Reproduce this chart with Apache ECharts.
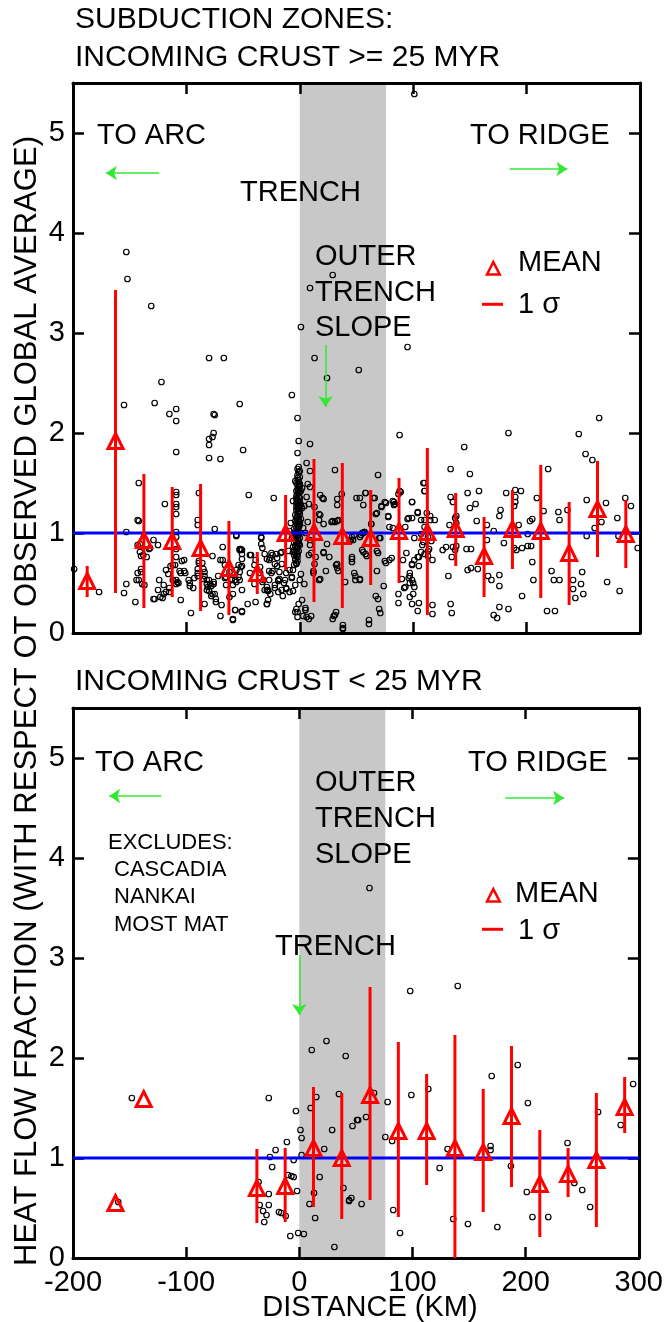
<!DOCTYPE html>
<html>
<head>
<meta charset="utf-8">
<script src="https://cdn.jsdelivr.net/npm/echarts@6/dist/echarts.min.js"></script>
<style>
  html, body { margin: 0; padding: 0; background: #fff; }
  #chart { width: 666px; height: 1322px; }
</style>
</head>
<body>
<div id="chart"></div>
<script>
// bin centres (km), shared by both panels
const binKm = [-187.5, -162.5, -137.5, -112.5, -87.5, -62.5, -37.5, -12.5, 12.5, 37.5,
               62.5, 87.5, 112.5, 137.5, 162.5, 187.5, 212.5, 237.5, 262.5, 287.5];

// incoming crust >= 25 Myr
const topMean = [0.52, 1.92, 0.93, 0.92, 0.85, 0.65, 0.60, 1.00, 1.01, 0.97,
                 0.95, 1.02, 1.01, 1.04, 0.77, 1.04, 1.02, 0.80, 1.24, 0.99];
const topLo   = [0.36, 0.40, 0.25, 0.36, 0.22, 0.18, 0.39, 0.63, 0.31, 0.25,
                 0.48, 0.50, 0.18, 0.67, 0.36, 0.64, 0.35, 0.28, 0.76, 0.65];
const topHi   = [0.67, 3.43, 1.59, 1.46, 1.49, 1.12, 0.81, 1.38, 1.74, 1.70,
                 1.43, 1.55, 1.85, 1.40, 1.16, 1.43, 1.68, 1.31, 1.72, 1.33];

// incoming crust < 25 Myr
const botMean = [null, 0.55, 1.59, null, null, null, 0.70, 0.72, 1.10, 1.00,
                 1.63, 1.27, 1.27, 1.10, 1.06, 1.42, 0.74, 0.84, 0.98, 1.51];
const botLo   = [null, null, null, null, null, null, 0.35, 0.36, 0.51, 0.39,
                 0.58, 0.41, 0.73, 0.00, 0.46, 0.71, 0.21, 0.61, 0.31, 1.25];
const botHi   = [null, null, null, null, null, null, 1.09, 1.10, 1.71, 1.65,
                 2.71, 2.16, 1.84, 2.23, 1.69, 2.12, 1.28, 1.10, 1.65, 1.81];

// outer trench slope (km)
const slopeKm = [0, 76];

// individual heat flow sites [km, fraction]
const topPts = [
  [-153,3.81],[-152,3.54],[-131,3.27],[1,3.06],[9,3.45],[29,3.58],[-80,2.75],[-67,2.75],[13,2.75],
  [101,5.39],[95,2.86],[24,2.55],[52,2.63],
  [-122,2.51],[-155,2.28],[-128,2.30],[-115,2.19],[-109,2.24],[-109,2.12],[-76,2.19],[-75,2.18],
  [-53,2.29],[-7,2.38],[-2,2.15],[-80,1.94],[-77,1.96],[-76,2.00],[-80,1.88],[-50,1.83],[-109,1.81],
  [-80,1.75],[-70,1.74],[-1,1.92],[9,1.89],[-2,1.80],
  [-142,1.50],[-45,1.38],[-23,1.35],[-89,1.40],[-119,1.29],[-109,1.41],[-109,1.38],[-109,1.29],
  [-109,1.26],[-109,1.19],[-109,1.01],[-143,1.13],[-142,1.12],[-153,1.01],[-90,1.13],[-75,1.04],[-56,0.97],
  [-199,0.64],[-177,0.41],[-155,0.40],[-153,0.49],[-145,0.31],[-141,0.89],[-141,0.81],[-140,0.77],
  [-140,0.61],[-142,0.53],[-139,0.49],[-135,0.76],[-133,0.84],[-129,0.93],[-125,0.88],[-124,0.53],
  [-129,0.34],[-125,0.43],[-121,0.35],[-120,0.39],[-118,0.63],[-116,0.59],[-115,0.41],[-112,0.53],
  [-109,0.53],[-106,0.62],[-105,0.33],[-104,0.72],[-102,0.62],[-98,0.53],[-96,0.20],[-94,0.45],
  [-93,0.55],[-90,0.57],[-89,0.70],[-85,0.64],[-84,0.57],[-82,0.53],[-82,0.43],[-84,0.29],[-79,0.49],
  [-77,0.39],[-76,0.49],[-74,0.34],[-72,0.57],[-70,0.73],[-68,0.86],[-70,0.17],[-66,0.55],[-65,0.48],
  [-62,0.36],[-60,0.53],[-59,0.39],[-59,0.14],[-57,0.23],[-56,0.63],[-54,0.68],[-53,0.83],[-51,0.83],
  [-51,0.67],[-51,0.43],[-53,0.53],[-51,0.22],[-46,0.29],[-44,0.78],[-43,0.78],[-44,0.60],[-40,0.49],
  [-35,0.66],[-34,0.96],[-34,0.89],[-33,0.51],[-31,0.43],[-29,0.29],[-29,0.74],[-27,0.73],[-27,0.53],
  [-24,0.62],[-22,0.48],[-24,0.78],[-21,0.79],[-20,0.67],[-19,0.53],[-18,0.61],[-16,0.81],[-15,0.37],
  [-13,0.53],[-12,0.45],[-10,0.82],[-9,0.41],[-7,0.56],[-6,0.63],[-6,0.81],[-4,0.73],[-3,0.69],
  [-2,0.16],[-1,0.29],[-2,0.21],
  [-144,0.53],[-143,0.60],[-140,0.64],[-143,0.88],[-138,0.78],[-132,0.85],[-137,0.48],[-128,0.34],
  [-123,0.36],[-118,0.41],[-115,0.45],[-120,0.48],[-114,0.67],[-112,0.68],[-110,0.68],[-108,0.51],
  [-107,0.50],[-109,0.49],[-105,0.60],[-102,0.73],[-101,0.60],[-109,0.76],[-109,0.84],[-109,0.96],
  [-97,0.50],[-97,0.47],[-90,0.60],[-90,0.64],[-89,0.72],[-86,0.70],[-90,1.08],[-77,0.77],[-85,0.54],
  [-84,0.61],[-82,0.49],[-81,0.46],[-80,0.53],[-78,0.47],[-76,0.51],[-80,0.42],[-78,0.37],[-75,0.39],
  [-74,0.31],[-68,0.73],[-66,0.68],[-69,0.28],[-65,0.56],[-62,0.61],[-60,0.54],[-59,0.48],[-57,0.53],
  [-56,0.51],[-54,0.56],[-53,0.61],[-52,0.66],[-51,0.79],[-51,0.74],[-53,0.84],[-52,0.84],[-56,0.98],
  [-59,0.13],[-57,0.23],[-51,0.21],[-40,0.68],[-39,0.73],[-34,0.95],[-33,0.85],[-31,0.79],[-39,0.31],
  [-29,0.29],[-29,0.43],[-28,0.42],[-26,0.39],[-32,0.53],[-35,0.60],
  // trench spike
  [-1,1.66],[0,1.62],[-2,1.58],[0,1.56],[-1,1.53],[-3,1.50],[0,1.49],[-1,1.46],[-2,1.44],[1,1.42],
  [-1,1.40],[-3,1.37],[0,1.35],[-2,1.33],[-1,1.30],[1,1.28],[-3,1.26],[-1,1.24],[0,1.22],[-2,1.20],
  [-4,1.18],[-1,1.16],[1,1.14],[-2,1.12],[-3,1.10],[0,1.08],[-1,1.06],[-5,1.04],[-2,1.02],[0,1.00],
  [-1,0.98],[-3,0.96],[-4,0.94],[-1,0.92],[-2,0.90],[0,0.88],[-6,0.86],[-3,0.84],[-1,0.82],[-5,0.78],
  [-2,0.76],[-8,1.10],[-7,0.95],[-9,1.02],[2,1.45],[2,1.25],[3,1.05],[-4,1.52],[-6,1.32],
  [-2,1.64],[-1,1.61],[-2,1.55],[-1,1.51],[0,1.47],[-2,1.48],[-1,1.43],[0,1.41],[-2,1.39],[-1,1.36],
  [-3,1.34],[0,1.31],[-2,1.29],[-1,1.27],[-3,1.23],[-2,1.25],[-1,1.21],[0,1.19],[-2,1.17],[-3,1.15],
  [-1,1.13],[0,1.11],[-2,1.09],[-1,1.07],[-3,1.05],[-2,1.04],[-1,1.01],[-3,0.99],[-2,0.97],[0,0.95],
  [-2,0.93],[-3,0.91],[-1,0.89],[-4,0.87],[-2,0.85],[-3,0.81],[-4,0.80],[-2,0.79],[-3,0.77],[-4,0.74],
  [-2,0.72],[-3,0.70],[-5,0.68],[-3,1.42],[-3,1.30],[-4,1.12],[-4,1.00],[-5,0.90],[-5,0.83],[0,1.26],
  // outer trench slope and beyond
  [9,1.62],[7,1.49],[18,1.38],[20,1.35],[33,1.34],[37,1.39],[50,1.35],[58,1.40],[56,1.28],[66,1.35],
  [75,1.31],[72,1.26],[4,1.27],[18,1.18],[21,1.09],[29,1.12],[31,1.11],[33,1.12],[46,0.96],[48,0.98],
  [55,1.00],[57,1.01],[63,1.09],[70,0.95],[78,1.17],[83,1.31],[84,1.29],[89,1.41],[99,1.31],[96,1.15],
  [104,1.21],[107,1.13],[110,1.50],[110,1.42],[119,1.13],
  [9,0.88],[8,0.78],[21,0.80],[23,0.62],[33,0.69],[32,0.68],[46,0.76],[55,0.83],[58,0.79],[75,0.72],
  [79,0.73],[81,0.75],[91,0.73],[94,0.80],[97,0.60],[99,0.68],[100,0.50],[105,0.76],[108,0.88],[113,0.82],
  [96,0.55],[92,0.45],[90,0.54],[87,0.39],[100,0.39],[117,0.28],[105,0.30],[133,0.29],
  [12,0.60],[18,0.54],[48,0.60],[53,0.54],[67,0.37],[70,0.24],[61,0.13],[38,0.08],[30,0.17],[32,0.21],
  [5,0.25],[3,0.17],[10,0.17],[-3,0.24],[-4,0.21],[2,0.33],[-28,0.33],
  [-25,0.80],[-26,0.75],[-22,0.69],[-20,0.75],[-17,0.80],[-16,0.69],[-27,0.62],[-25,0.60],[-18,0.54],
  [-19,0.52],[-22,0.45],[-29,0.46],[-28,0.43],[-19,0.41],[-16,0.43],[-12,0.44],[-14,0.50],[-12,0.60],
  [-9,0.63],[-7,0.55],[-4,0.48],[-6,0.42],
  [6,1.36],[9,1.46],[8,1.29],[6,1.70],[13,1.26],[17,1.19],[17,1.13],[21,1.34],[7,1.11],[5,1.00],
  [9,0.93],[10,0.80],[14,0.76],[17,0.53],[21,0.81],[26,0.76],[24,0.89],[31,1.63],[33,1.28],[34,1.13],
  [28,1.11],[33,0.65],[34,0.62],[40,0.51],[31,0.18],[29,0.14],[38,0.04],[5,0.23],[6,0.16],[8,0.14],
  [4,0.49],[0,0.53],[1,0.59],[12,0.62],[13,0.69],[46,0.74],[49,0.53],[47,0.93],[44,0.92],[53,1.35],
  [88,1.98],[145,1.86],[184,2.00],[264,2.15],[246,1.99],[252,1.79],[258,1.73],[219,1.64],[133,1.64],
  [150,1.59],[69,1.58],[109,1.50],[110,1.42],[88,1.42],[87,1.39],[133,1.36],[135,1.31],[148,1.40],
  [158,1.42],[155,1.29],[150,1.25],[190,1.43],[195,1.42],[190,1.36],[190,1.31],[189,1.27],[182,1.40],
  [177,1.23],[176,1.17],[209,1.35],[215,1.22],[228,1.21],[229,1.13],[236,1.23],[253,1.33],[270,1.30],
  [287,1.35],[292,1.27],[280,1.15],[266,1.11],[260,1.05],[253,0.97],[281,0.97],[298,0.85],[76,1.30],
  [72,1.27],[67,1.19],[68,1.20],[58,1.40],[65,1.35],[63,1.09],[78,1.16],[82,1.32],[83,1.28],[99,1.31],
  [104,1.20],[95,1.14],[99,1.15],[110,1.13],[112,1.20],[115,1.17],[115,1.13],[110,1.06],[79,1.06],
  [82,1.05],[93,1.06],[101,0.95],[107,0.99],[109,0.91],[110,0.79],[113,0.96],[116,0.92],[114,0.84],
  [117,0.73],[113,0.77],[107,0.81],[104,0.76],[101,0.73],[99,0.69],[105,0.67],[97,0.57],[99,0.53],
  [101,0.46],[97,0.50],[93,0.46],[97,0.36],[99,0.29],[87,0.30],[104,0.22],[117,0.19],[134,0.20],
  [171,0.18],[174,0.15],[176,0.26],[184,0.24],[196,0.37],[176,0.47],[176,0.58],[169,0.53],[166,0.57],
  [157,0.64],[148,0.63],[151,0.65],[131,0.57],[134,0.76],[126,0.83],[129,0.86],[135,0.86],[137,0.83],
  [147,0.84],[151,0.84],[138,0.87],[132,1.08],[137,1.15],[138,1.17],[138,1.10],[156,1.12],[165,1.08],
  [165,0.93],[171,1.02],[180,0.90],[189,0.85],[191,0.83],[193,1.08],[203,1.12],[205,1.14],[201,0.99],
  [196,0.85],[201,0.87],[204,0.87],[205,0.71],[206,0.53],[218,0.22],[225,0.22],[224,0.53],[229,0.53],
  [222,0.62],[241,0.53],[241,0.44],[243,0.35],[250,0.39],[248,0.49],[249,0.61],[271,0.51],[282,0.42],
  [69,0.80],[68,0.82],[68,0.62],[69,0.34],[71,0.20],[61,0.09],[38,0.05],[49,0.57],[53,0.53],[46,0.71],
  [56,0.81],[59,0.77],[71,0.95],[53,0.96],[54,0.98],[56,1.00],[57,1.01],[45,0.93],[76,0.70],[74,0.47]
];

const botPts = [
  [-148,1.60],[-160,0.56],[-27,1.60],[-3,1.47],[10,1.50],[15,1.61],[11,2.08],[24,2.17],[41,2.02],
  [35,1.64],[47,1.32],[51,1.38],[29,1.28],[22,1.09],[1,1.28],[2,1.20],[2,1.03],[-11,1.16],[-21,1.08],
  [-26,1.01],[-24,0.91],[-5,0.98],[-10,0.83],[-7,0.82],[-5,0.81],[-2,0.67],[18,0.81],[13,0.65],
  [39,0.70],[44,0.58],[46,0.60],[9,0.54],[14,0.40],[-27,0.64],[-35,0.53],[-27,0.53],[-32,0.47],
  [-29,0.43],[-31,0.36],[-18,0.46],[-16,0.45],[-12,0.42],[-36,0.76],[-8,0.22],[-1,0.25],[4,0.24],
  [31,0.11],
  [62,3.70],[140,2.72],[98,2.67],[193,1.93],[170,1.82],[114,1.69],[66,1.65],[99,1.63],[78,1.56],
  [202,1.55],[295,1.74],[264,1.46],[284,1.33],[59,1.41],[52,1.38],[76,1.21],[82,1.17],[131,1.09],
  [169,1.12],[169,1.08],[237,1.15],[124,0.90],[187,0.92],[201,0.66],[243,0.75],[250,0.68],[257,0.51],
  [206,0.41],[220,0.41],[175,0.31],[149,0.34],[136,0.39],[83,0.48],[89,0.25],[55,0.54],[44,0.57]
];

const xTicks = [-200, 300, 100];   // min, max, step
const yTicks = [0, 5.5, 1];

const FONT = '"Liberation Sans", Arial, Helvetica, sans-serif';
const GREEN = '#33e833';

function xAxisOf(grid, pos, labels) {
  return {
    type: 'value', gridIndex: grid, position: pos,
    min: xTicks[0], max: xTicks[1], interval: xTicks[2],
    axisLine: { show: true, onZero: false, lineStyle: { color: '#000', width: 3 } },
    axisTick: { show: true, inside: true, length: 11, lineStyle: { color: '#000', width: 2.5 } },
    axisLabel: { show: labels, color: '#000', fontSize: 29, fontFamily: FONT, margin: 10 },
    splitLine: { show: false }
  };
}

function yAxisOf(grid, pos, labels) {
  return {
    type: 'value', gridIndex: grid, position: pos,
    min: yTicks[0], max: yTicks[1], interval: yTicks[2],
    axisLine: { show: true, onZero: false, lineStyle: { color: '#000', width: 3 } },
    axisTick: { show: true, inside: true, length: 11, lineStyle: { color: '#000', width: 2.5 } },
    axisLabel: { show: labels, color: '#000', fontSize: 29, fontFamily: FONT, margin: 8,
                 showMaxLabel: false },
    splitLine: { show: false }
  };
}

function panelSeries(xi, yi, pts, mean, lo, hi, arrows) {
  const means = [];
  const bars = [];
  binKm.forEach((x, i) => {
    if (mean[i] != null) means.push([x, mean[i]]);
    if (lo[i] != null) bars.push([x, lo[i], hi[i]]);
  });
  return [
    {
      type: 'custom', xAxisIndex: xi, yAxisIndex: yi, z: 0, silent: true,
      data: [[slopeKm[0], slopeKm[1], 0]],
      encode: { x: [0, 1], y: 2 },
      renderItem: (params, api) => {
        const a = api.coord([api.value(0), yTicks[1]]);
        const b = api.coord([api.value(1), yTicks[0]]);
        return { type: 'rect', shape: { x: a[0], y: a[1], width: b[0] - a[0], height: b[1] - a[1] },
                 style: { fill: '#c8c8c8' } };
      }
    },
    {
      type: 'scatter', xAxisIndex: xi, yAxisIndex: yi, z: 2, silent: true,
      symbol: 'circle', symbolSize: 5.5, data: pts,
      itemStyle: { color: 'rgba(0,0,0,0)', borderColor: '#000', borderWidth: 1.2, opacity: 1 }
    },
    {
      type: 'line', xAxisIndex: xi, yAxisIndex: yi, z: 3, silent: true,
      data: [[xTicks[0], 1], [xTicks[1], 1]], symbol: 'none',
      lineStyle: { color: '#0000ff', width: 3 },
      markLine: {
        silent: true, symbol: ['none', 'arrow'], symbolSize: 11,
        label: { show: false },
        lineStyle: { color: GREEN, width: 1.5, type: 'solid' },
        itemStyle: { color: GREEN },
        data: arrows.map(a => [{ coord: a[0] }, { coord: a[1] }])
      }
    },
    {
      type: 'custom', xAxisIndex: xi, yAxisIndex: yi, z: 4, silent: true,
      data: bars, encode: { x: 0, y: [1, 2] },
      renderItem: (params, api) => {
        const a = api.coord([api.value(0), api.value(1)]);
        const b = api.coord([api.value(0), api.value(2)]);
        return { type: 'line', shape: { x1: a[0], y1: a[1], x2: b[0], y2: b[1] },
                 style: { stroke: '#ff0000', lineWidth: 3 } };
      }
    },
    {
      type: 'scatter', xAxisIndex: xi, yAxisIndex: yi, z: 5, silent: true,
      symbol: 'triangle', symbolSize: 15, data: means,
      itemStyle: { color: 'rgba(0,0,0,0)', borderColor: '#ff0000', borderWidth: 3, opacity: 1 }
    }
  ];
}

function txt(x, y, s, size, align) {
  return {
    type: 'text', x: x, y: y, z: 10,
    style: { text: s, fill: '#000', fontSize: size || 29, fontFamily: FONT,
             align: align || 'left', verticalAlign: 'middle' }
  };
}

function legendMarks(triY, lineY) {
  return [
    { type: 'polygon', z: 10, shape: { points: [[493.3, triY - 6.5], [487, triY + 6], [499.7, triY + 6]] },
      style: { fill: 'none', stroke: '#ff0000', lineWidth: 2.5 } },
    { type: 'line', z: 10, shape: { x1: 482, y1: lineY, x2: 503, y2: lineY },
      style: { stroke: '#ff0000', lineWidth: 3 } }
  ];
}

const chart = echarts.init(document.getElementById('chart'));
chart.setOption({
  animation: false,
  backgroundColor: '#fff',
  grid: [
    { left: 73, top: 83, width: 567, height: 550 },
    { left: 73, top: 708, width: 567, height: 550 }
  ],
  xAxis: [xAxisOf(0, 'bottom', false), xAxisOf(0, 'top', false),
          xAxisOf(1, 'bottom', true), xAxisOf(1, 'top', false)],
  yAxis: [yAxisOf(0, 'left', true), yAxisOf(0, 'right', false),
          yAxisOf(1, 'left', true), yAxisOf(1, 'right', false)],
  series: [
    ...panelSeries(0, 0, topPts, topMean, topLo, topHi, [
      [[-124, 4.60], [-171, 4.60]],
      [[185, 4.64], [236, 4.64]],
      [[22.7, 2.88], [22.7, 2.26]]
    ]),
    ...panelSeries(2, 2, botPts, botMean, botLo, botHi, [
      [[-122, 4.62], [-168, 4.62]],
      [[182, 4.60], [234, 4.60]],
      [[0, 3.03], [0, 2.43]]
    ])
  ],
  graphic: [
    txt(75, 20, 'SUBDUCTION ZONES:', 30),
    txt(75, 58, 'INCOMING CRUST >= 25 MYR', 30),
    txt(75, 682, 'INCOMING CRUST < 25 MYR', 30),
    // top panel notes
    txt(97, 136, 'TO ARC'),
    txt(470, 136, 'TO RIDGE'),
    txt(240, 193, 'TRENCH'),
    txt(315, 257, 'OUTER'),
    txt(315, 293, 'TRENCH'),
    txt(315, 328, 'SLOPE'),
    txt(518, 263, 'MEAN'),
    txt(518, 305, '1 σ'),
    ...legendMarks(268.5, 304.3),
    // bottom panel notes
    txt(95, 763, 'TO ARC'),
    txt(468, 763, 'TO RIDGE'),
    txt(315, 783, 'OUTER'),
    txt(315, 819, 'TRENCH'),
    txt(315, 855, 'SLOPE'),
    txt(275, 947, 'TRENCH'),
    txt(108, 843, 'EXCLUDES:', 22),
    txt(114, 870, 'CASCADIA', 22),
    txt(114, 897, 'NANKAI', 22),
    txt(114, 925, 'MOST MAT', 22),
    txt(515, 894, 'MEAN'),
    txt(518, 931, '1 σ'),
    ...legendMarks(895.5, 929.3),
    // axis titles
    txt(370, 1308, 'DISTANCE (KM)', 29, 'center'),
    { type: 'text', x: 27, y: 701, rotation: Math.PI / 2, z: 10,
      style: { text: 'HEAT FLOW FRACTION (WITH RESPECT OT OBSERVED GLOBAL AVERAGE)', fill: '#000',
               fontSize: 31, fontFamily: FONT, align: 'center', verticalAlign: 'middle' } }
  ]
});
</script>
</body>
</html>
